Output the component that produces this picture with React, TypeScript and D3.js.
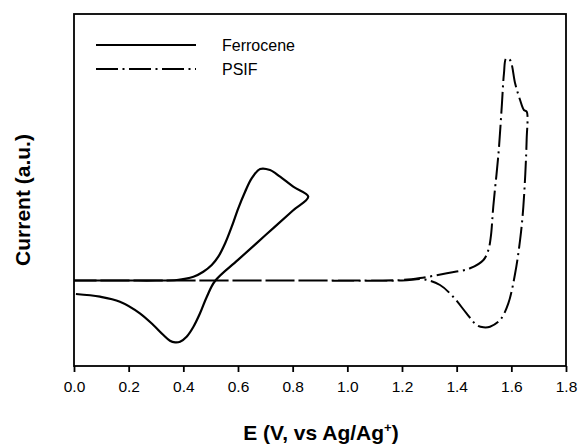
import React, { useRef, useEffect } from 'react';
import * as d3 from 'd3';

// Ferrocene CV loop (potential in V, current in arbitrary units)
const ferroE = [0.0, 0.1, 0.2, 0.3, 0.376, 0.437, 0.473, 0.504, 0.528, 0.553, 0.577, 0.601, 0.626, 0.65, 0.681, 0.717, 0.754, 0.802, 0.857,
  0.8, 0.7, 0.6, 0.516, 0.486, 0.461, 0.437, 0.412, 0.388, 0.37, 0.351, 0.327, 0.29, 0.241, 0.168, 0.095, 0.007];
const ferroI = [0, 0, 0, 0, 0.05, 0.38, 0.88, 1.55, 2.38, 3.72, 5.38, 7.22, 8.88, 10.22, 11.15, 11.05, 10.38, 9.38, 8.38,
  6.98, 4.52, 2.06, -0.05, -1.62, -3.28, -4.62, -5.62, -6.12, -6.18, -6.02, -5.45, -4.45, -3.28, -2.12, -1.62, -1.35];

// PSIF CV loop
const psifE = [0, 0.4, 0.8, 1.1, 1.2, 1.266, 1.364, 1.449, 1.498, 1.516, 1.525, 1.534, 1.553, 1.565, 1.573, 1.581, 1.595, 1.614, 1.632, 1.646, 1.656,
  1.656, 1.644, 1.632, 1.614, 1.589, 1.559, 1.522, 1.498, 1.473, 1.436, 1.387, 1.339, 1.278, 1.2, 0.8, 0.4, 0];
const psifI = [0, 0, 0, 0, 0.05, 0.25, 0.72, 1.22, 2.05, 3.05, 4.38, 7.4, 12.7, 17.4, 20.7, 22.2, 22.05, 19.7, 18.05, 17.05, 16.9,
  14.05, 7.4, 4.05, 0.72, -2.28, -3.95, -4.62, -4.68, -4.45, -3.28, -1.62, -0.45, 0.12, 0, 0, 0, 0];

const xTicks = [0, 0.2, 0.4, 0.6, 0.8, 1.0, 1.2, 1.4, 1.6, 1.8];
const seriesNames = ['Ferrocene', 'PSIF'];
const dashes = [null, '22,4.5,2,4.5'];

const W = 581, H = 446;
const font = 'Liberation Sans, Arial, sans-serif';

const App = () => {
  const svgRef = useRef<SVGSVGElement>(null);

  useEffect(() => {
    const svg = d3.select(svgRef.current);
    svg.selectAll('*').remove();

    const x = d3.scaleLinear().domain([0, 1.8]).range([74, 566]);
    const y = d3.scaleLinear().domain([-8.55, 26.65]).range([366, 14]);

    const line = d3.line<[number, number]>()
      .x(d => x(d[0]))
      .y(d => y(d[1]))
      .curve(d3.curveCatmullRom.alpha(0.5));

    const ferro = ferroE.map((e, i) => [e, ferroI[i]] as [number, number]);
    const psif = psifE.map((e, i) => [e, psifI[i]] as [number, number]);

    svg.append('path')
      .attr('d', line(ferro))
      .attr('fill', 'none')
      .attr('stroke', '#000')
      .attr('stroke-width', 2.2);

    svg.append('path')
      .attr('d', line(psif))
      .attr('fill', 'none')
      .attr('stroke', '#000')
      .attr('stroke-width', 2)
      .attr('stroke-dasharray', dashes[1]);

    // frame
    svg.append('rect')
      .attr('x', 74).attr('y', 14)
      .attr('width', 492).attr('height', 352)
      .attr('fill', 'none')
      .attr('stroke', '#000')
      .attr('stroke-width', 1.8);

    const xAxis = svg.append('g')
      .attr('transform', 'translate(0,366)')
      .call(d3.axisBottom(x).tickValues(xTicks).tickSize(6).tickPadding(9).tickFormat(d3.format('.1f')));
    xAxis.select('.domain').remove();
    xAxis.selectAll('line').attr('stroke-width', 1.8);
    xAxis.selectAll('text')
      .attr('font-family', font)
      .attr('font-size', 15.5)
      .attr('fill', '#000');

    // axis titles
    const xt = svg.append('text')
      .attr('x', 321).attr('y', 440)
      .attr('text-anchor', 'middle')
      .attr('font-family', font)
      .attr('font-size', 21)
      .attr('font-weight', 'bold');
    xt.append('tspan').text('E (V, vs Ag/Ag');
    xt.append('tspan').attr('dy', -8).attr('font-size', 13).text('+');
    xt.append('tspan').attr('dy', 8).text(')');

    svg.append('text')
      .attr('transform', 'translate(30,200) rotate(-90)')
      .attr('text-anchor', 'middle')
      .attr('font-family', font)
      .attr('font-size', 21)
      .attr('font-weight', 'bold')
      .text('Current (a.u.)');

    // legend
    const leg = svg.append('g');
    seriesNames.forEach((name, i) => {
      const ly = 45 + i * 24;
      leg.append('line')
        .attr('x1', 96).attr('x2', 196)
        .attr('y1', ly).attr('y2', ly)
        .attr('stroke', '#000')
        .attr('stroke-width', 2.2)
        .attr('stroke-dasharray', dashes[i]);
      leg.append('text')
        .attr('x', 222).attr('y', ly + 6)
        .attr('font-family', font)
        .attr('font-size', 16)
        .text(name);
    });
  }, []);

  return (
    <div style={{ position: 'fixed', left: 0, top: 0, background: '#fff' }}>
      <svg ref={svgRef} width={W} height={H}></svg>
    </div>
  );
};

export default App;
